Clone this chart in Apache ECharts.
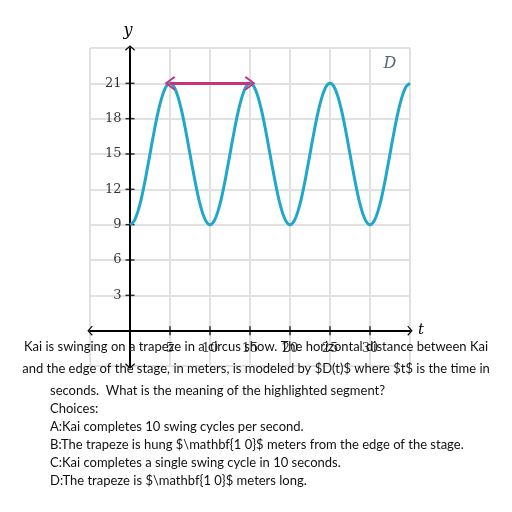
<!DOCTYPE html>
<html><head><meta charset="utf-8">
<script src="https://cdn.jsdelivr.net/npm/echarts@6/dist/echarts.min.js"></script>
<style>html,body{margin:0;padding:0;background:#fff}#c{width:512px;height:512px}</style>
</head><body><div id="c"></div>
<script>
// Data
const tValues = [0,0.5,1,1.5,2,2.5,3,3.5,4,4.5,5,5.5,6,6.5,7,7.5,8,8.5,9,9.5,
 10,10.5,11,11.5,12,12.5,13,13.5,14,14.5,15,15.5,16,16.5,17,17.5,18,18.5,19,19.5,
 20,20.5,21,21.5,22,22.5,23,23.5,24,24.5,25,25.5,26,26.5,27,27.5,28,28.5,29,29.5,
 30,30.5,31,31.5,32,32.5,33,33.5,34,34.5,35];
const dValues = [9,9.29,10.15,11.47,13.15,15,16.85,18.53,19.85,20.71,21,20.71,19.85,18.53,16.85,15,13.15,11.47,10.15,9.29,
 9,9.29,10.15,11.47,13.15,15,16.85,18.53,19.85,20.71,21,20.71,19.85,18.53,16.85,15,13.15,11.47,10.15,9.29,
 9,9.29,10.15,11.47,13.15,15,16.85,18.53,19.85,20.71,21,20.71,19.85,18.53,16.85,15,13.15,11.47,10.15,9.29,
 9,9.29,10.15,11.47,13.15,15,16.85,18.53,19.85,20.71,21];
const segStart = [5,21];
const segEnd = [15,21];
const xTicks = [5,10,15,20,25,30];
const yTicks = [3,6,9,12,15,18,21];
const textLines = [
 "Kai is swinging on a trapeze in a circus show. The horizontal distance between Kai",
 "and the edge of the stage, in meters, is modeled by $D(t)$ where $t$ is the time in",
 "seconds.  What is the meaning of the highlighted segment?",
 "Choices:",
 "A:Kai completes 10 swing cycles per second.",
 "B:The trapeze is hung $\\mathbf{1 0}$ meters from the edge of the stage.",
 "C:Kai completes a single swing cycle in 10 seconds.",
 "D:The trapeze is $\\mathbf{1 0}$ meters long."
];

const chev = 'path://M0,0 L10,9 L8.4,10.6 L0,3 L-8.4,10.6 L-10,9 Z';
const chart = echarts.init(document.getElementById('c'));
const serif = '"DejaVu Serif", "Liberation Serif", serif';
const gridColor = '#e1e1e1';

const textGraphics = textLines.map((s,i)=>{
  const ys = [347,369,391,409,427,445,463,481];
  const centered = i < 2;
  return {type:'text', z:100, style:{text:s, x: centered?256:50, y: ys[i], align: centered?'center':'left', verticalAlign:'middle', font:'13px Lato', fill:'#111'}};
});

chart.setOption({
  animation:false,
  grid:{left:90,right:102,top:48,bottom:146,containLabel:false},
  xAxis:{type:'value',min:-5,max:35,interval:5,
    axisLine:{onZero:true,lineStyle:{color:'#000',width:2},symbol:[chev,chev],symbolSize:[10,8]},
    axisTick:{show:false},
    splitLine:{show:true,lineStyle:{color:gridColor,width:2}},
    axisLabel:{show:false}
  },
  yAxis:{type:'value',min:-3,max:24,interval:3,
    axisLine:{onZero:true,lineStyle:{color:'#000',width:2},symbol:[chev,chev],symbolSize:[10,8]},
    axisTick:{show:false},
    splitLine:{show:true,lineStyle:{color:gridColor,width:2}},
    axisLabel:{show:false}
  },
  series:[
    {type:'scatter',data:xTicks.map(v=>[v,0]),symbol:'rect',symbolSize:[1.5,9],itemStyle:{color:'#000'},silent:true,z:3,
      label:{show:true,position:'bottom',distance:7,formatter:p=>String(p.value[0]),color:'#000',fontFamily:serif,fontSize:13}},
    {type:'scatter',data:yTicks.map(v=>[0,v]),symbol:'rect',symbolSize:[9,1.5],itemStyle:{color:'#000'},silent:true,z:3,
      label:{show:true,position:'left',distance:4,formatter:p=>String(p.value[1]),color:'#000',fontFamily:serif,fontSize:13}},
    {type:'line',data:tValues.map((t,i)=>[t,dValues[i]]),smooth:0.3,showSymbol:false,lineStyle:{color:'#1fa8c9',width:3},z:4},
    {type:'line',data:[segStart,segEnd],showSymbol:false,lineStyle:{opacity:0},z:5,
      markLine:{silent:true,symbol:[chev,chev],symbolSize:[14,11],label:{show:false},
        lineStyle:{color:'#ca337c',width:3,type:'solid'},
        data:[[{coord:segStart},{coord:segEnd}]]}}
  ],
  graphic:[
    {type:'text',style:{text:'y',x:128,y:31,align:'center',verticalAlign:'middle',font:'italic 16px "DejaVu Serif"',fill:'#000'}},
    {type:'text',style:{text:'t',x:421,y:330,align:'center',verticalAlign:'middle',font:'italic 15px "DejaVu Serif"',fill:'#000'}},
    {type:'text',style:{text:'D',x:390,y:64,align:'center',verticalAlign:'middle',font:'italic 16px "DejaVu Serif"',fill:'#52677a'}}
  ].concat(textGraphics)
});
</script></body></html>
